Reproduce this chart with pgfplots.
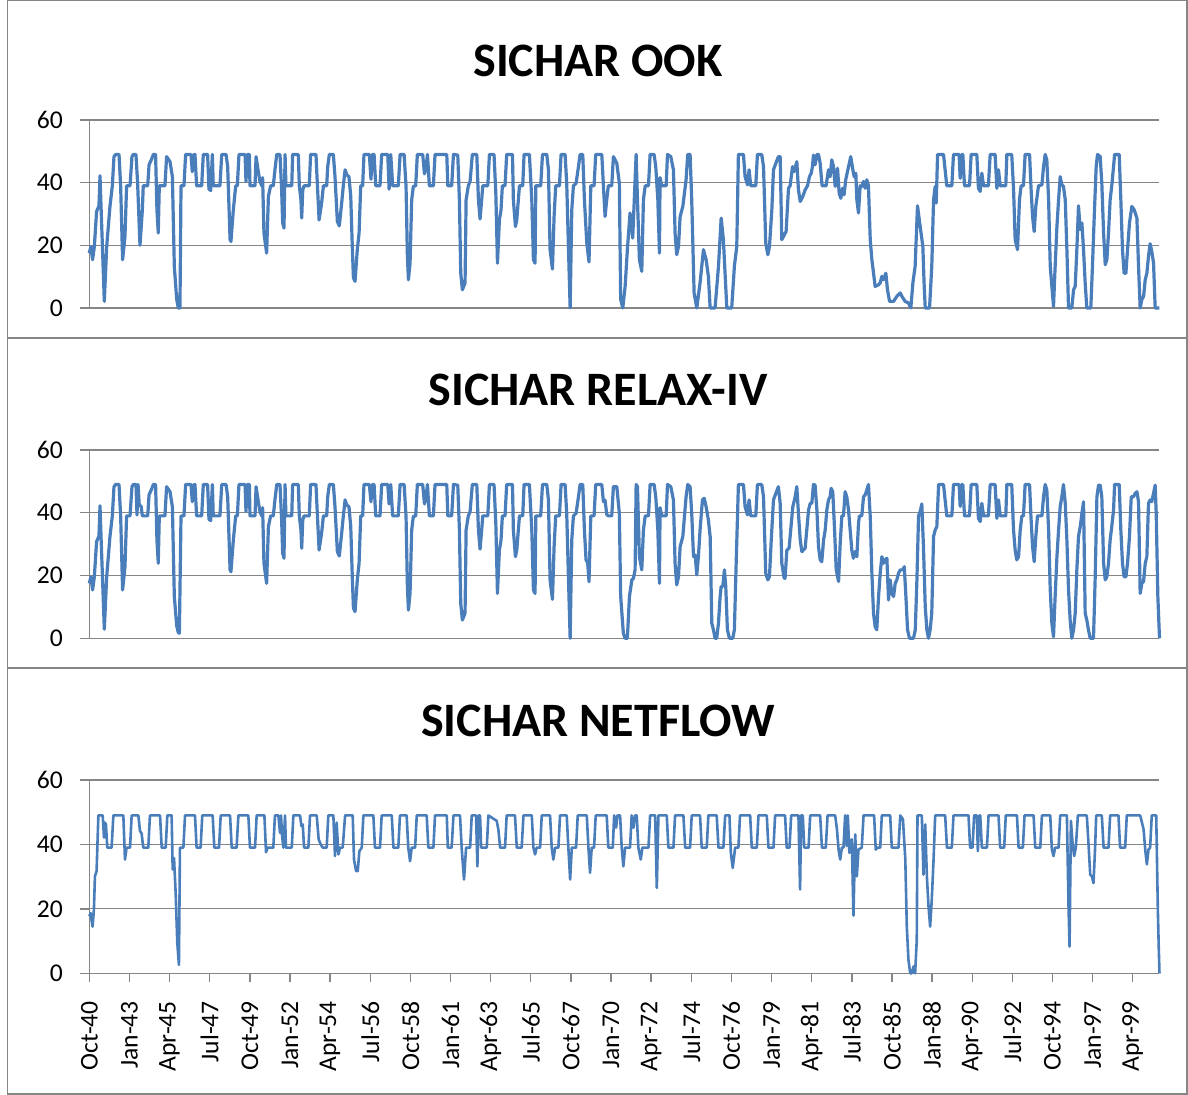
\documentclass[border=0pt]{standalone}
\usepackage{fontspec}
\setmainfont{Carlito}
\usepackage{pgfplots}
\pgfplotsset{compat=1.18}

\definecolor{xlblue}{HTML}{4A7EBB}
\definecolor{xlgrid}{HTML}{868686}

% months counted from Oct-40 (=0); one tick every 27 months
\pgfplotsset{
  sichar/.style={
    scale only axis, width=535.1pt,
    xmin=0, xmax=720, ymin=0, ymax=60,
    ytick={0,20,40,60},
    axis lines=left, axis line style={-, draw=xlgrid, line width=0.7pt},
    ymajorgrids, grid style={draw=xlgrid, line width=0.6pt},
    tick align=outside, major tick length=4.5pt,
    tick style={draw=xlgrid, line width=0.7pt},
    ticklabel style={font=\fontsize{12.8}{15}\selectfont, inner sep=0pt},
    /pgf/number format/assume math mode=true,
    yticklabel shift=8.5pt,
    clip=false,
  },
  sicharline/.style={xlblue, line width=1.6pt, line join=round, mark=none},
}

\begin{document}
\begin{tikzpicture}
\useasboundingbox (0,0) rectangle (594pt,547.5pt);
% chart frames
\draw[xlgrid, line width=0.8pt] (3.65pt,378.5pt) rectangle (593.5pt,547.5pt);
\draw[xlgrid, line width=0.8pt] (3.65pt,213.5pt) rectangle (593.5pt,378.5pt);
\draw[xlgrid, line width=0.8pt] (3.65pt,0.5pt) rectangle (593.5pt,213.5pt);

\node[anchor=base, font=\fontsize{24}{28}\selectfont\bfseries] at (299pt,509pt) {SICHAR OOK};
\node[anchor=base, font=\fontsize{24}{28}\selectfont\bfseries] at (299pt,344.5pt) {SICHAR RELAX-IV};
\node[anchor=base, font=\fontsize{24}{28}\selectfont\bfseries] at (299pt,179pt) {SICHAR NETFLOW};

% ---------------- OOK ----------------
\begin{axis}[sichar, height=94pt, at={(44.65pt,393.5pt)}, anchor=south west, xtick=\empty]
\addplot[sicharline] coordinates {
(0,17.5)(1.1,19.6)(2.2,15.4)(3.4,19.6)(4.9,30.8)(6.5,32.6)(7.2,42.2)(7.9,32.4)(10.1,2.1)(11.7,19.6)(13.9,32.4)(15.5,39)(16.6,48.3)(17.7,49)(20.0,49)(21.1,38.8)(22.4,15.4)(24.0,22.8)(25.1,39)(27.4,39)(28.7,48.3)(29.6,49)(31.4,49)(32.5,39.8)(34.1,20)(35.7,31.3)(36.3,39)(39.3,39)(40.2,45.7)(41.9,47.5)(43.1,49)(44.6,49)(45.5,31.3)(46.4,23.9)(47.1,39)(50.9,39)(52.0,48.3)(54.3,46.7)(55.9,41.9)(57.2,13.3)(58.8,2.7)(59.9,0)(61.0,0)(61.7,39)(63.7,39)(64.8,49)(68.4,49)(69.3,43.5)(70.0,48.8)(71.1,49)(72.2,39)(75.6,39)(76.7,49)(79.6,49)(80.5,37.9)(81.7,37.5)(82.8,49)(83.4,39)(87.9,39)(89.1,49)(92.0,49)(93.1,45.1)(94.7,21.8)(95.3,21.2)(96.9,31.3)(98.5,39)(99.6,39)(100.7,49)(104.8,49)(105.4,40.4)(106.3,49)(107.7,49)(108.1,39)(111.5,39)(112.2,48.3)(113.7,43.5)(114.8,40.4)(116.0,39)(116.6,41.6)(117.5,23.9)(119.3,17.5)(120.5,35.6)(122.0,39)(123.8,39)(124.9,44.1)(126.1,49)(128.3,49)(129.4,37.7)(130.1,27.1)(131.0,25.5)(131.7,49)(132.3,39)(136.2,39)(136.8,49)(140.6,49)(141.3,39)(142.4,34.5)(142.9,28.7)(143.6,37.7)(144.5,39)(148.0,39)(148.9,49)(152.5,49)(153.4,39.8)(154.6,28.1)(156.3,33.5)(157.5,39)(159.7,39)(160.4,45.1)(161.5,49)(164.2,49)(165.3,41.9)(166.9,27.6)(168.2,26.2)(169.8,33.5)(170.9,39)(172.1,44.1)(173.2,42.5)(174.7,41.9)(175.9,35.6)(177.0,18.6)(177.7,9.6)(178.8,8.5)(180.3,18.6)(181.5,23.9)(182.6,39)(183.9,39)(184.8,49)(188.4,49)(189.5,41.1)(190.4,49)(191.6,49)(192.7,39)(195.6,39)(196.7,49)(200.8,49)(201.7,37.9)(202.8,49)(204.1,39)(207.9,39)(209.1,49)(211.8,49)(213.1,38.8)(214.0,16.5)(214.7,9.0)(215.8,14.3)(216.9,34.5)(218.0,38.8)(219.6,39)(220.7,49)(224.3,49)(225.5,42.8)(226.6,45.1)(227.5,49)(228.8,39)(231.5,39)(232.6,49)(240.5,49)(241.2,39)(243.8,39)(245.0,49)(247.9,48.8)(249.0,34.5)(249.9,11.1)(251.0,5.8)(252.8,8.0)(253.5,34.5)(255.0,39)(256.2,40.4)(257.7,49)(260.7,49)(261.8,34.5)(262.9,28.4)(264.0,34.5)(264.7,39)(268.1,39)(269.2,49)(272.3,49)(273.5,36.6)(274.6,14.3)(275.9,28.1)(277.0,31.3)(277.9,39)(279.7,39)(280.8,49)(284.7,49)(285.3,34.5)(286.7,26.0)(287.6,28.1)(289.4,39)(291.6,39)(292.5,49)(296.1,49)(297.7,34.5)(298.8,15.4)(299.9,14.3)(300.4,39)(303.7,39)(304.9,49)(307.8,49)(308.9,44.1)(310.0,18.6)(311.6,12.4)(312.7,29.2)(313.8,39)(316.3,39)(317.4,49)(320.1,49)(321.2,39.8)(322.4,18.6)(323.5,0)(324.6,31.3)(325.7,39)(327.5,39.8)(329.1,45.1)(330.2,49)(332.0,49)(333.1,34.5)(334.7,20.7)(336.2,14.7)(337.4,39)(339.6,39)(340.7,49)(344.8,49)(345.9,38.8)(347.0,29.2)(348.1,34.5)(349.2,39)(351.5,39)(352.6,48.3)(354.9,46.2)(356.6,39.8)(357.5,2.7)(358.9,0)(360.5,6.9)(362.0,18.6)(363.8,30.3)(365.6,22.3)(367.2,40.9)(367.9,49)(368.8,34.5)(370.1,15.4)(371.7,11.7)(372.8,34.5)(374.0,39)(376.2,39)(377.3,49)(380.0,49)(381.1,45.1)(382.5,34.5)(383.6,17.5)(384.0,41.6)(385.1,39)(388.1,39)(389.0,49)(391.2,48.3)(393.0,44.1)(394.1,23.9)(395.2,17.0)(396.4,19.6)(397.5,29.2)(399.3,32.4)(401.5,40.9)(402.6,49)(404.2,49)(405.3,34.5)(406.9,4.8)(408.7,0)(410.9,8.0)(413.2,18.6)(415.0,15.4)(416.5,10.1)(417.7,0)(421.0,0)(423.3,13.3)(425.1,28.7)(426.6,21.8)(428.9,0)(432.2,0)(434.0,13.3)(435.6,19.6)(436.7,49)(440.1,49)(441.2,41.9)(442.8,39.3)(443.9,44.1)(445.0,39)(448.4,39)(449.5,49)(452.4,49)(453.6,45.1)(455.1,20.7)(456.5,17.0)(457.6,19.6)(459.2,31.3)(460.3,44.1)(461.9,46.2)(463.6,48.3)(464.8,48.3)(465.9,21.8)(468.8,24.4)(470.4,38.2)(471.5,39)(473.1,45.1)(474.2,43.5)(476.0,46.7)(477.1,37.7)(478.3,34.0)(480.0,35.6)(481.6,37.7)(483.2,39)(484.5,41.9)(485.7,43.0)(486.5,45.1)(487.2,48.8)(488.3,45.7)(489.5,49)(490.6,49)(491.7,46.2)(493.0,39)(495.7,39)(497.3,44.1)(498.4,41.9)(499.5,47.3)(500.7,45.1)(501.8,38.8)(502.5,40.4)(503.4,44.6)(504.5,36.6)(505.6,35.0)(506.7,38.2)(507.8,36.1)(508.9,40.9)(510.8,45.1)(512.3,48.3)(513.7,44.1)(514.6,41.9)(515.7,43.0)(516.4,34.5)(517.5,30.3)(518.6,39)(519.7,38.8)(520.9,40.4)(522.0,38.2)(523.1,40.9)(524.2,39)(525.4,21.8)(526.5,15.4)(528.7,6.9)(531.0,7.4)(532.1,8.0)(533.2,10.1)(534.3,9.0)(535.9,11.1)(537.0,5.8)(538.4,2.1)(541.1,2.1)(543.3,3.7)(545.6,4.8)(546.7,3.7)(548.9,2.1)(551.1,1.6)(552.7,0)(554.1,8.0)(555.6,13.3)(557.2,32.6)(559.0,26.0)(560.8,19.6)(561.7,6.9)(562.4,0)(565.3,0)(566.8,13.3)(568.0,34.5)(569.1,38.8)(569.8,33.5)(570.7,49)(574.7,49)(576.9,39)(580.3,39)(581.4,49)(585.2,49)(585.9,41.4)(587.0,49)(587.7,49)(588.8,39)(592.2,39)(593.3,49)(597.1,49)(598.2,38.2)(599.4,37.2)(600.5,43.0)(601.6,39)(604.9,39)(606.1,49)(609.4,49)(610.6,38.2)(611.7,44.1)(612.8,39)(616.6,39)(617.3,49)(620.6,49)(621.8,38.2)(622.9,21.8)(624.5,18.6)(625.8,34.5)(626.9,39)(628.5,39)(629.6,49)(632.6,49)(633.5,39)(634.6,29.2)(635.7,24.4)(636.8,32.4)(638.6,39)(640.9,39.3)(642.0,45.1)(643.1,49)(644.2,47.3)(645.4,34.5)(646.5,13.3)(648.7,0.5)(649.8,13.3)(651.0,26.0)(652.1,34.5)(653.2,41.9)(654.3,39.3)(655.4,38.8)(656.6,34.5)(657.7,18.6)(658.8,0)(661.0,0)(662.2,5.8)(663.3,6.9)(664.4,18.6)(665.5,32.6)(666.7,25.0)(667.8,27.1)(668.9,18.6)(670.0,8.0)(671.1,0)(673.8,0)(674.9,13.3)(676.1,29.2)(677.4,45.1)(678.3,49)(680.1,48.3)(681.2,39.8)(682.4,23.9)(683.5,13.8)(684.6,15.4)(685.7,23.9)(686.8,34.5)(687.9,39)(689.1,45.1)(689.8,49)(692.9,49)(694.0,34.5)(695.1,18.6)(696.2,11.1)(697.4,11.1)(698.5,18.6)(699.8,27.1)(701.4,32.4)(703.0,31.3)(704.8,28.7)(705.9,13.3)(707.0,0)(708.1,2.7)(709.3,3.7)(710.4,9.0)(711.5,11.1)(712.6,16.5)(713.7,20.5)(714.8,18.1)(716.0,14.3)(717.1,0)(720,0)
};
\end{axis}

% ---------------- RELAX-IV ----------------
\begin{axis}[sichar, height=94.15pt, at={(44.65pt,228.35pt)}, anchor=south west, xtick=\empty]
\addplot[sicharline] coordinates {
(0,17.5)(1.1,19.6)(2.2,15.4)(3.4,19.6)(4.9,30.8)(6.5,32.6)(7.2,42.2)(7.9,32.4)(10.1,2.9)(11.7,19.6)(13.9,32.4)(15.5,39)(16.6,48.3)(17.7,49)(20.0,49)(21.1,38.8)(22.4,15.4)(24.0,22.8)(25.1,39)(27.4,39)(28.7,48.3)(29.6,49)(31.4,49)(32.1,39.3)(32.8,49)(33.6,42.5)(34.9,42)(35.7,39)(39.3,39)(40.2,45.7)(41.9,47.5)(43.1,49)(44.6,49)(45.5,31.3)(46.4,23.9)(47.1,39)(50.9,39)(52.0,48.3)(54.3,46.7)(55.9,41.9)(57.2,13.3)(58.8,4.0)(59.9,1.8)(60.6,1.6)(61.7,39)(63.7,39)(64.8,49)(68.4,49)(69.3,43.5)(70.0,48.8)(71.1,49)(72.2,39)(75.6,39)(76.7,49)(79.6,49)(80.5,37.9)(81.7,37.5)(82.8,49)(83.4,39)(87.9,39)(89.1,49)(92.0,49)(93.1,45.1)(94.7,21.8)(95.3,21.2)(96.9,31.3)(98.5,39)(99.6,39)(100.7,49)(104.8,49)(105.4,40.4)(106.3,49)(107.7,49)(108.1,39)(111.5,39)(112.2,48.3)(113.7,43.5)(114.8,40.4)(116.0,39)(116.6,41.6)(117.5,23.9)(119.3,17.5)(120.5,35.6)(122.0,39)(123.8,39)(124.9,44.1)(126.1,49)(128.3,49)(129.4,37.7)(130.1,27.1)(131.0,25.5)(131.7,49)(132.3,39)(136.2,39)(136.8,49)(140.6,49)(141.3,39)(142.4,34.5)(142.9,28.7)(143.6,37.7)(144.5,39)(148.0,39)(148.9,49)(152.5,49)(153.4,39.8)(154.6,28.1)(156.3,33.5)(157.5,39)(159.7,39)(160.4,45.1)(161.5,49)(164.2,49)(165.3,41.9)(166.9,27.6)(168.2,26.2)(169.8,33.5)(170.9,39)(172.1,44.1)(173.2,42.5)(174.7,41.9)(175.9,35.6)(177.0,18.6)(177.7,9.6)(178.8,8.5)(180.3,18.6)(181.5,23.9)(182.6,39)(183.9,39)(184.8,49)(188.4,49)(189.5,43.5)(190.4,49)(191.6,49)(192.7,39)(195.6,39)(196.7,49)(200.8,49)(201.7,42.8)(202.8,49)(204.1,39)(207.9,39)(209.1,49)(211.8,49)(213.1,38.8)(214.0,16.5)(214.7,9.0)(215.8,14.3)(216.9,34.5)(218.0,38.8)(219.6,39)(220.7,49)(224.3,49)(225.5,42.8)(226.6,45.1)(227.5,49)(228.8,39)(231.5,39)(232.6,49)(240.5,49)(241.2,39)(243.8,39)(245.0,49)(247.9,48.8)(249.0,34.5)(249.9,11.1)(251.0,5.8)(252.8,8.0)(253.5,34.5)(255.0,39)(256.2,40.4)(257.7,49)(260.7,49)(261.8,34.5)(262.9,28.4)(264.0,34.5)(264.7,39)(268.1,39)(269.2,49)(272.3,49)(273.5,36.6)(274.6,14.3)(275.9,28.1)(277.0,31.3)(277.9,39)(279.7,39)(280.8,49)(284.7,49)(285.3,34.5)(286.7,26.0)(287.6,28.1)(289.4,39)(291.6,39)(292.5,49)(296.1,49)(297.7,34.5)(298.8,15.4)(299.9,14.3)(300.4,39)(303.7,39)(304.9,49)(307.8,49)(308.9,44.1)(310.0,18.6)(311.6,12.4)(312.7,29.2)(313.8,39)(316.3,39)(317.4,49)(320.1,49)(321.2,39.8)(322.4,18.6)(323.5,0)(324.6,31.3)(325.7,39)(327.5,39.8)(329.1,45.1)(330.2,49)(332.0,49)(333.1,34.5)(334.2,25)(335.3,24)(336.2,18)(337.4,39)(339.6,39)(340.7,49)(344.8,49)(345.9,43.5)(347.0,44)(348.1,39.5)(349.2,39)(351.5,39)(352.6,48.3)(354.9,48.3)(356.6,39.8)(357.5,13.3)(359.3,1.6)(360.5,0)(362.0,0)(363.4,13.3)(365.0,18.6)(366.1,19.1)(367.2,21.8)(367.9,49)(368.8,48.3)(370.1,26.0)(371.7,21.8)(372.8,34.5)(374.0,39)(376.2,39)(377.3,49)(380.0,49)(381.1,45.1)(382.5,34.5)(383.6,17.5)(384.0,41.6)(385.1,39)(388.1,39)(389.0,49)(391.2,48.3)(393.0,44.1)(394.1,23.9)(395.2,17.0)(396.4,19.6)(397.5,29.2)(399.3,32.4)(401.5,45.1)(402.6,49)(404.2,48.3)(405.3,39.8)(406.5,26.0)(407.6,26.5)(408.7,20.2)(409.8,26.0)(410.9,34.5)(412.5,44.1)(413.7,44.6)(415.0,41.9)(416.5,37.7)(417.7,32.4)(418.8,4.8)(419.9,2.7)(421.0,0)(422.1,0)(423.3,4.8)(424.4,13.3)(425.1,16.5)(426.2,16.5)(427.3,21.8)(428.2,16.5)(429.3,2.7)(430.7,0)(432.9,0)(434.0,2.7)(435.2,23.9)(436.7,49)(440.1,49)(441.2,41.9)(442.8,39.3)(443.9,44.1)(445.0,39)(448.4,39)(449.5,49)(452.4,49)(453.6,45.1)(455.1,20.7)(456.5,18.6)(457.6,19.6)(458.8,31.3)(460.3,44.1)(461.9,46.2)(463.6,48.3)(464.8,43.0)(465.9,23.9)(467.5,19.1)(468.1,19.1)(469.3,28.1)(470.8,28.7)(471.9,34.5)(473.3,41.9)(474.9,45.1)(476.0,48.3)(477.1,39.8)(478.3,31.3)(479.4,27.6)(481.6,28.7)(482.7,34.5)(483.9,40.9)(485.0,43.0)(486.1,43.0)(487.2,49)(488.3,48.8)(489.5,40.9)(490.6,29.2)(491.7,25.0)(492.8,24.4)(494.0,31.3)(495.1,34.5)(496.2,40.9)(497.3,44.1)(498.4,45.1)(499.1,47.8)(500.2,46.7)(501.4,34.5)(502.5,21.8)(504.1,18.1)(505.2,30.3)(506.3,39)(507.4,39)(508.5,46.7)(509.6,45.1)(510.8,40.9)(511.9,34.5)(513.0,28.1)(514.1,25.5)(515.2,27.6)(516.4,26.0)(517.5,36.6)(518.1,39)(519.7,39)(520.9,45.1)(522.0,45.7)(523.1,47.3)(524.2,49)(525.4,38.8)(526.5,20.7)(527.6,8.0)(528.7,3.7)(529.8,2.7)(531.0,13.3)(532.1,20.7)(533.2,26.0)(534.3,23.9)(535.4,25.0)(536.6,25.5)(537.7,12.2)(538.8,18.6)(539.9,14.3)(541.1,13.3)(542.2,17.5)(543.3,18.6)(544.4,20.7)(545.6,21.8)(547.4,21.8)(548.3,22.8)(549.4,13.3)(550.5,2.7)(551.8,0)(554.5,0)(555.7,2.7)(556.8,18.6)(557.9,39)(559.0,40.4)(560.1,42.8)(561.2,29.2)(562.4,10.1)(563.5,2.7)(564.6,0)(565.7,2.7)(566.8,8.0)(568.0,32.4)(569.1,34.5)(570.2,35.6)(571.4,49)(574.7,49)(576.9,39)(580.3,39)(581.4,49)(585.2,49)(585.9,42)(587.0,49)(587.7,49)(588.8,39)(592.2,39)(593.3,49)(597.1,49)(598.2,38.2)(599.4,37.2)(600.5,43.0)(601.6,39)(604.9,39)(606.1,49)(609.4,49)(610.6,38.2)(611.7,44.1)(612.8,39)(616.6,39)(617.3,49)(620.6,49)(621.8,34.5)(622.9,28.1)(624.0,25.0)(625.2,26.0)(626.3,34.5)(627.4,39)(628.5,39)(629.6,49)(632.6,49)(633.5,39)(634.6,29.2)(635.7,24.4)(636.8,32.4)(637.9,39)(640.9,39)(642.0,45.1)(643.1,49)(644.2,47.3)(645.4,34.5)(646.5,15.4)(647.6,4.8)(648.7,0.5)(649.8,13.3)(651.0,26.0)(652.1,34.5)(653.2,41.9)(654.3,45.1)(655.4,49)(656.6,43.0)(657.7,31.3)(658.8,15.4)(659.9,5.8)(661.0,0)(662.2,2.7)(663.3,8.0)(664.4,21.8)(665.5,32.4)(666.7,35.6)(667.8,39.8)(668.9,43.5)(670.0,8.0)(671.1,5.8)(672.2,2.7)(673.4,0)(675.6,0)(676.7,18.6)(677.9,45.1)(679.0,48.8)(680.1,48.8)(681.2,45.1)(682.4,23.9)(683.5,18.6)(684.6,19.6)(685.7,23.9)(686.8,31.3)(687.9,35.6)(689.1,40.9)(689.8,49)(692.9,49)(694.0,34.5)(695.1,23.9)(696.2,19.6)(697.4,19.6)(698.5,23.9)(699.8,32.4)(701.0,45.1)(702.5,45.1)(703.7,46.2)(704.8,46.7)(705.9,43.5)(707.0,14.3)(708.1,17.5)(709.3,18.1)(710.4,23.9)(711.5,26.0)(712.6,43.0)(713.7,44.1)(714.8,43.5)(716.0,46.2)(717.1,48.8)(717.8,39.8)(718.9,13.3)(720,0)
};
\end{axis}

% ---------------- NETFLOW ----------------
\begin{axis}[sichar, height=96.65pt, at={(44.65pt,60.85pt)}, anchor=south west,
  xtick={0,27,...,702},
  xticklabels={Oct-40,Jan-43,Apr-45,Jul-47,Oct-49,Jan-52,Apr-54,Jul-56,Oct-58,Jan-61,Apr-63,Jul-65,Oct-67,Jan-70,Apr-72,Jul-74,Oct-76,Jan-79,Apr-81,Jul-83,Oct-85,Jan-88,Apr-90,Jul-92,Oct-94,Jan-97,Apr-99},
  xticklabel style={rotate=90, anchor=east},
  xticklabel shift=9.2pt,
]
\addplot[sicharline, line width=1.3pt] coordinates {
(0,17.7)(0.9,18.7)(1.6,16.1)(2.2,14.5)(3.1,19.7)(3.8,30.1)(4.9,31.7)(6.1,49)(9.0,49)(9.9,42.1)(10.5,46.8)(11.2,46.2)(12.1,39)(15.0,39)(16.2,49)(22.9,49)(24.0,35.3)(25.1,39)(27.4,39)(28.5,49)(33.0,49)(34.1,44.2)(35.2,43.4)(36.3,39)(39.7,39)(40.8,49)(47.6,49)(48.7,39)(51.4,39)(52.5,49)(55.4,49)(56.1,32.2)(57.0,35.8)(58.1,24.9)(59.2,9.4)(60.3,2.6)(61.0,39)(63.3,39)(64.4,49)(71.1,49)(72.2,39)(74.9,39)(76.0,49)(83.0,49)(84.1,39)(87.3,39)(88.4,49)(94.7,49)(95.8,39)(99.1,39)(100.3,49)(107.0,49)(108.1,39)(111.5,39)(112.6,49)(117.8,49)(118.9,37.6)(120.0,39)(123.8,39)(124.9,49)(127.2,49)(128.3,43.6)(129.0,49)(129.7,42.6)(130.6,39)(131.7,49)(132.3,39)(136.2,39)(137.3,49)(141.8,49)(142.7,45.7)(143.6,46.2)(144.5,39)(147.4,39)(148.5,49)(153.0,49)(154.3,41.6)(155.7,40)(157.0,39)(159.7,39)(160.8,49)(164.2,49)(165.3,36.4)(166.4,46.8)(167.6,36.9)(168.7,39)(170.5,39)(172.1,49)(177.2,49)(178.1,35.3)(179.5,31.7)(180.6,31.7)(181.7,37.9)(183.3,39)(184.4,49)(191.1,49)(192.2,39)(195.6,39)(196.7,49)(203.5,49)(204.6,39)(207.9,39)(209.0,49)(213.5,49)(214.6,39)(215.8,34.8)(216.9,39)(219.2,39)(220.3,49)(227.0,49)(228.1,39)(231.5,39)(232.6,49)(240.5,49)(241.2,39)(243.8,39)(245.0,49)(249.4,49)(250.6,38.4)(252.1,29.1)(253.5,39)(256.2,39)(257.3,49)(260.2,49)(261.1,33.2)(261.8,49)(262.9,49)(263.6,39)(267.4,39)(268.5,49)(274.1,47.3)(275.2,44.7)(276.4,39)(279.7,39)(280.8,49)(286.4,49)(287.6,39)(290.9,39)(292.1,49)(297.7,49)(298.8,39)(299.9,36.9)(301.0,39)(303.3,39)(304.4,49)(310.0,49)(311.1,39)(312.2,35.3)(313.4,39)(315.6,39)(316.7,49)(321.2,49)(322.3,39)(323.5,29.1)(324.6,39)(327.5,39)(328.6,49)(334.7,49)(335.8,39)(336.9,31.2)(338.0,39)(339.6,39)(340.7,49)(348.1,49)(349.2,39)(352.2,39)(353.1,49)(354.4,45.2)(355.3,49)(357.1,49)(358.2,39)(359.3,33.2)(360.5,39)(363.8,39)(364.9,49)(366.1,45.2)(367.2,49)(368.3,49)(369.4,39)(371.0,35.3)(372.1,39)(376.2,39)(377.3,49)(380.7,49)(381.8,26.5)(382.9,49)(388.5,49)(389.6,39)(393.0,39)(394.1,49)(399.7,49)(400.9,39)(404.2,39)(405.3,49)(410.9,49)(412.0,39)(415.4,39)(416.5,49)(422.1,49)(423.3,39)(426.6,39)(427.8,49)(430.7,49)(431.6,37.4)(432.9,32.7)(434.5,39)(436.7,39)(437.8,49)(444.6,49)(445.7,39)(449.1,39)(450.2,49)(455.8,49)(456.9,39)(460.3,39)(461.4,49)(468.1,49)(469.2,39)(471.1,39)(472.2,49)(477.1,49)(478.2,26.0)(478.9,49)(480.0,49)(481.0,39)(483.9,39)(485.0,49)(491.7,49)(492.9,39)(495.5,39)(496.7,49)(501.8,49)(503.0,44.7)(504.1,38.4)(505.2,35.3)(506.3,39)(507.4,39)(508.5,49)(509.6,39.5)(510.3,49)(511.4,37.4)(512.3,38.4)(513.0,41.6)(514.1,17.9)(515.3,43.1)(516.4,30.1)(517.5,38.4)(519.7,39)(520.9,49)(528.0,49)(529.1,38.4)(530.3,39)(532.1,39)(533.2,49)(538.8,49)(539.9,39)(544.4,39)(545.6,49)(547.4,47.8)(549.0,35.3)(550.0,14.5)(551.1,4.2)(552.3,0)(553.4,0)(554.5,2.1)(555.6,0)(556.7,10.4)(557.2,49)(560.1,49)(561.2,30.6)(562.4,46.2)(563.5,30.1)(564.6,20.8)(565.7,14.5)(566.8,22.9)(568.0,35.3)(569.1,49)(575.8,49)(577.0,39)(580.3,39)(581.4,49)(591.5,49)(592.6,39)(594.2,39)(595.3,49)(597.1,49)(597.8,37.9)(598.7,49)(599.4,49)(600.5,39)(603.9,39)(605.0,49)(611.7,49)(612.8,39)(615.5,39)(616.6,49)(624.1,49)(625.2,39)(628.1,39)(629.2,49)(635.3,49)(636.4,39)(639.8,39)(640.9,49)(646.5,49)(647.6,38.4)(648.7,36.4)(649.8,39)(652.1,39)(653.2,49)(657.7,49)(658.8,20.8)(659.5,8.3)(660.4,47.3)(661.5,40.5)(662.6,36.4)(663.7,39)(665.1,49)(671.1,49)(672.2,40.5)(673.4,30.6)(674.5,30.1)(675.6,28.0)(676.7,39)(677.4,49)(681.2,49)(682.4,39)(685.7,39)(686.8,49)(692.4,49)(693.5,39)(696.9,39)(698.0,49)(707.0,49)(709.3,44.7)(710.4,38.4)(711.5,33.8)(712.6,38.4)(713.7,39)(714.8,49)(717.8,49)(718.9,19.7)(719.5,8)(720,0)
};
\end{axis}
\end{tikzpicture}
\end{document}
